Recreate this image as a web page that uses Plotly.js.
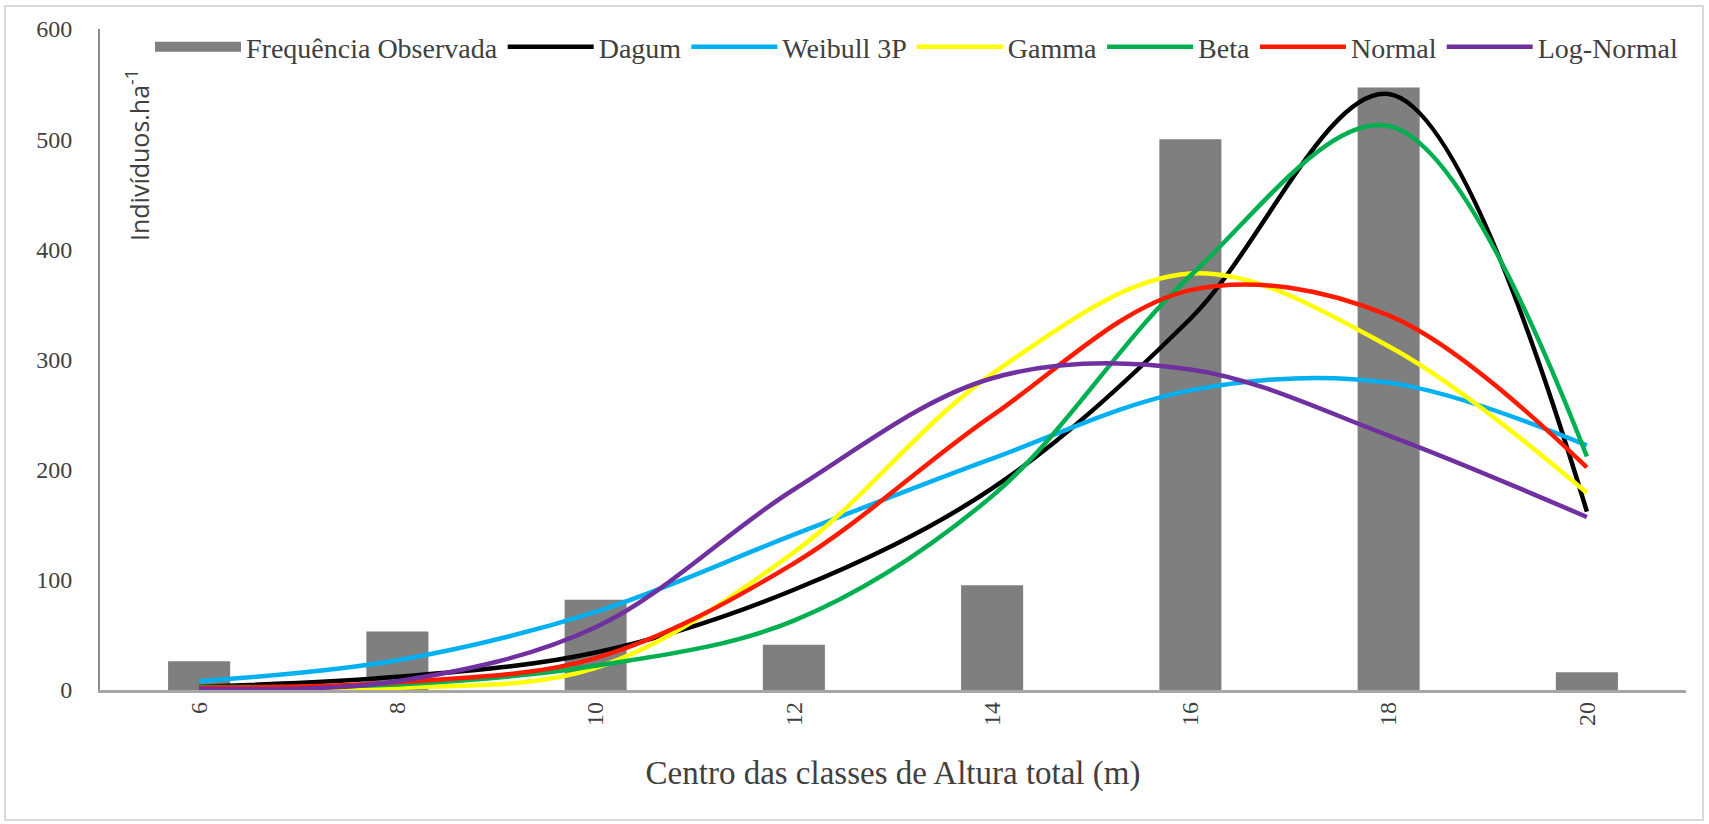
<!DOCTYPE html>
<html>
<head>
<meta charset="utf-8">
<script src="https://cdn.plot.ly/plotly-3.0.1.min.js"></script>
<style>
  html, body { margin: 0; padding: 0; background: #ffffff; }
  #chart { width: 1709px; height: 824px; }
</style>
</head>
<body>
<div id="chart"></div>
<script>
// Height class centres (m)
const classes = ['6', '8', '10', '12', '14', '16', '18', '20'];

// Observed frequency (individuals per hectare)
const observed = [26, 53, 82, 41, 95, 500, 547, 16];

// Fitted distributions (individuals per hectare)
const dagum     = [3, 12, 34, 91, 183, 337, 541, 162];
const weibull3p = [8, 27, 71, 141, 210, 272, 279, 222];
const gamma     = [0.5, 2, 20, 125, 287, 378, 312, 179];
const beta      = [3, 5, 22, 63, 176, 376, 512, 212];
const normal    = [2, 7, 29, 115, 249, 363, 340, 202];
const logNormal = [1, 8, 57, 182, 283, 291, 231, 157];

const yTicks = [0, 100, 200, 300, 400, 500, 600];

// Figure geometry
const W = 1709, H = 824;
const M = { l: 100, r: 23, t: 29, b: 134 };
const plotW = W - M.l - M.r, plotH = H - M.t - M.b;
const px2x = p => (p - M.l) / plotW;
const px2y = p => (H - M.b - p) / plotH;

const serif = 'Liberation Serif, Times New Roman, serif';
const textColor = '#404040';

const fits = [
  { name: 'Dagum',      y: dagum,     color: '#000000' },
  { name: 'Weibull 3P', y: weibull3p, color: '#00b0f0' },
  { name: 'Gamma',      y: gamma,     color: '#ffff00' },
  { name: 'Beta',       y: beta,      color: '#00b050' },
  { name: 'Normal',     y: normal,    color: '#ff1a00' },
  { name: 'Log-Normal', y: logNormal, color: '#7030a0' }
];

const traces = [
  {
    type: 'bar', x: classes, y: observed, name: 'Frequência Observada',
    marker: { color: '#7f7f7f' }, showlegend: false
  },
  // legend key for the bars, drawn as a wide grey block
  {
    type: 'scatter', mode: 'lines', x: [null], y: [null],
    name: 'Frequência Observada', line: { color: '#7f7f7f', width: 14 }
  }
].concat(fits.map(f => ({
  type: 'scatter', mode: 'lines', x: classes, y: f.y, name: f.name,
  line: { color: f.color, width: 4.5, shape: 'spline', smoothing: 1 }
})));

const layout = {
  width: W, height: H,
  margin: M,
  paper_bgcolor: '#ffffff', plot_bgcolor: '#ffffff',
  showlegend: true,
  bargap: 0.687,
  font: { family: serif, color: textColor, size: 24 },
  xaxis: {
    type: 'category', range: [-0.5, 7.5],
    showline: true, linecolor: '#a6a6a6', linewidth: 2.5,
    showgrid: false, zeroline: false, ticks: '',
    tickangle: -90, tickfont: { family: serif, size: 24, color: textColor },
    title: { text: 'Centro das classes de Altura total (m)',
             font: { family: serif, size: 33, color: textColor }, standoff: 36 },
    fixedrange: true
  },
  yaxis: {
    range: [0, 600], tickvals: yTicks,
    showline: true, linecolor: '#8c8c8c', linewidth: 2,
    showgrid: false, zeroline: false, ticks: '',
    ticklabelstandoff: 21,
    tickfont: { family: serif, size: 24, color: textColor },
    fixedrange: true
  },
  legend: {
    orientation: 'h', x: px2x(150), y: px2y(47), xanchor: 'left', yanchor: 'middle',
    font: { family: serif, size: 28, color: textColor },
    itemwidth: 86, bgcolor: 'rgba(0,0,0,0)', tracegroupgap: 0
  },
  annotations: [
    {
      xref: 'paper', yref: 'paper', x: px2x(137), y: px2y(155),
      text: 'Indivíduos.ha<sup>-1</sup>', textangle: -90, showarrow: false,
      font: { family: 'Open Sans, DejaVu Sans, sans-serif', size: 25, color: textColor },
      xanchor: 'center', yanchor: 'middle'
    }
  ],
  shapes: [
    {
      type: 'rect', xref: 'paper', yref: 'paper', layer: 'below',
      x0: px2x(5), x1: px2x(1703), y0: px2y(820), y1: px2y(6),
      line: { color: '#d9d9d9', width: 2 }, fillcolor: 'rgba(0,0,0,0)'
    }
  ]
};

Plotly.newPlot('chart', traces, layout, { staticPlot: true, displayModeBar: false });
</script>
</body>
</html>
